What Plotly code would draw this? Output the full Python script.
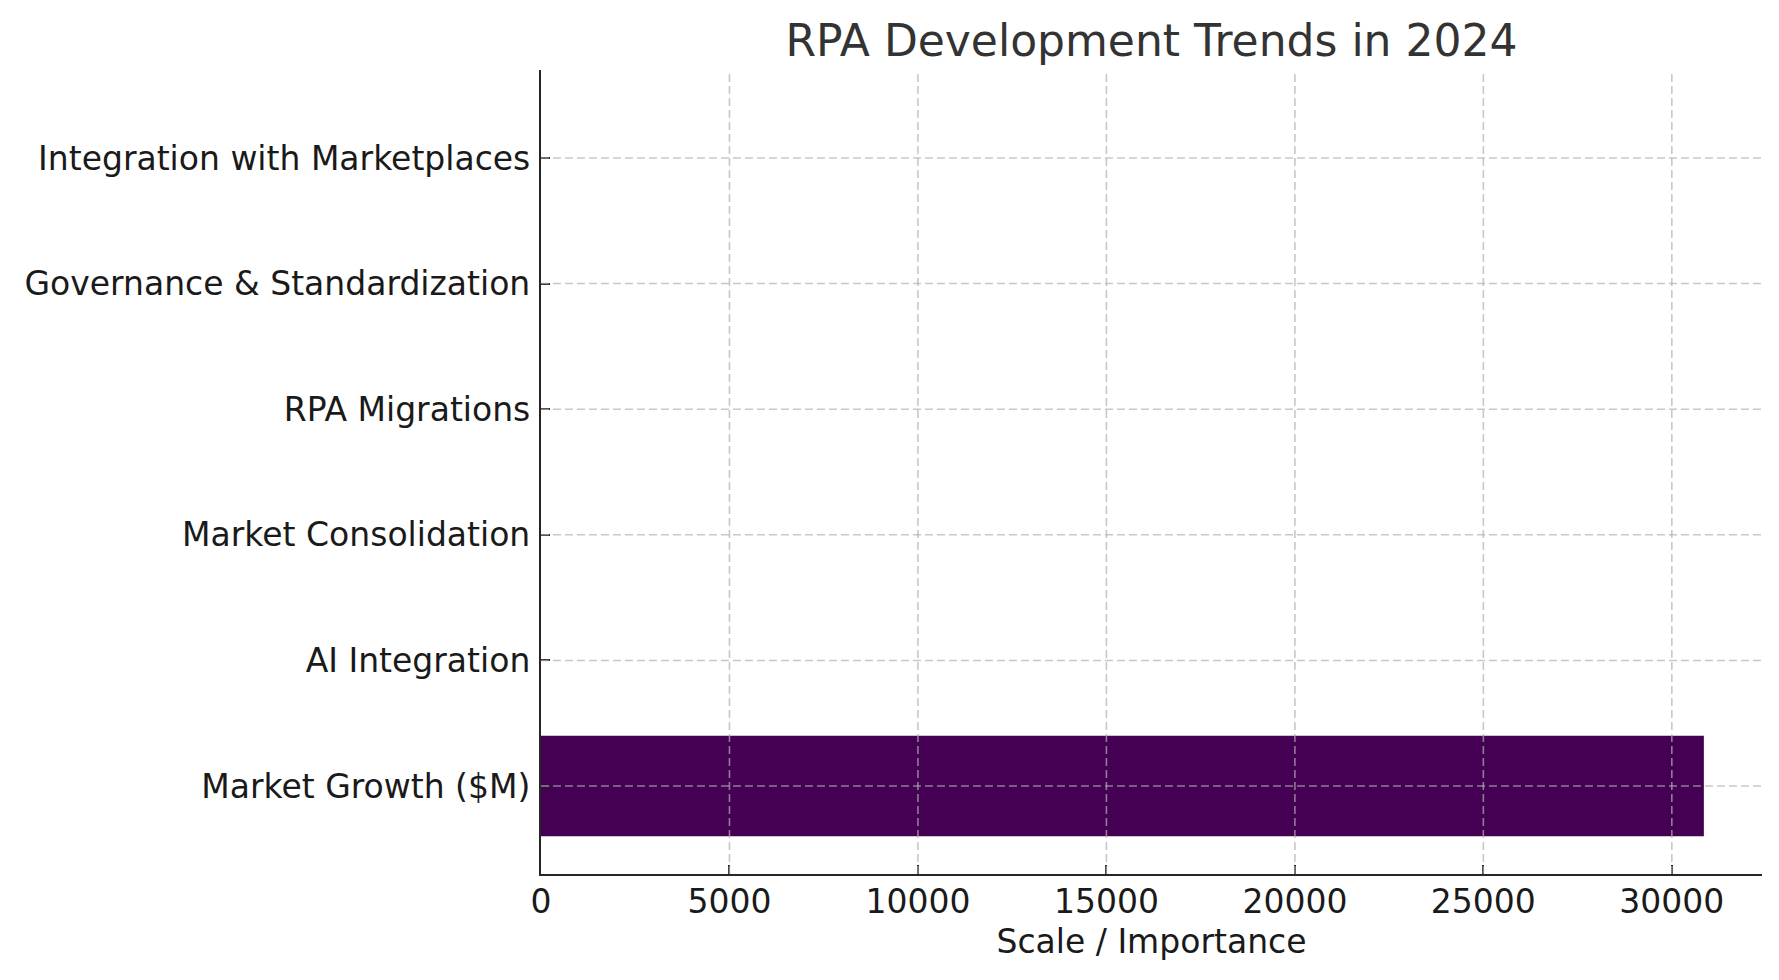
import plotly.graph_objects as go

# trends, bottom to top as drawn
trends = ['Market Growth ($M)', 'AI Integration', 'Market Consolidation',
          'RPA Migrations', 'Governance & Standardization',
          'Integration with Marketplaces']
# only the market figure shows up at this scale, the rest read as ~0
values = [30850, 0, 0, 0, 0, 0]
colors = ['#440154', '#414487', '#2a788e', '#22a884', '#7ad151', '#fde725']
x_ticks = [0, 5000, 10000, 15000, 20000, 25000, 30000]

FONT = 'DejaVu Sans'
AXIS_COLOR = '#262626'
GRID = 'rgba(176,176,176,0.7)'

fig = go.Figure()
fig.add_trace(go.Bar(x=values, y=trends, orientation='h',
                     marker=dict(color=colors, line=dict(width=0)),
                     width=0.8))

# dashed grid drawn over the bars, like the original
shapes = []
for t in x_ticks[1:]:
    shapes.append(dict(type='line', xref='x', yref='paper', x0=t, x1=t,
                       y0=0, y1=1, layer='above',
                       line=dict(color=GRID, width=1.6, dash='8px,4px')))
for i in range(len(trends)):
    shapes.append(dict(type='line', xref='paper', yref='y', x0=0, x1=1,
                       y0=i, y1=i, layer='above',
                       line=dict(color=GRID, width=1.6, dash='8px,4px')))

# page body has an 8px margin, so the figure is sized to fit inside it
fig.update_layout(
    width=1763, height=964,
    margin=dict(l=533, r=9, t=62, b=98),
    paper_bgcolor='white', plot_bgcolor='white',
    font=dict(family=FONT, size=33, color='#1a1a1a'),
    title=dict(text='RPA Development Trends in 2024', x=0.5, xref='paper',
               xanchor='center', y=0.9665, yanchor='middle',
               font=dict(size=44, color='#333333')),
    showlegend=False,
    shapes=shapes,
    bargap=0.2,
)
fig.update_xaxes(range=[0, max(values) * 1.05], tickvals=x_ticks,
                 tickformat='d',
                 showgrid=False, zeroline=False,
                 showline=True, linecolor=AXIS_COLOR, linewidth=2.2,
                 ticks='inside', ticklen=9, tickwidth=2, tickcolor=AXIS_COLOR,
                 ticklabelstandoff=-3,
                 title=dict(text='Scale / Importance', standoff=10,
                            font=dict(size=33, color='#1a1a1a')),
                 layer='above traces')
fig.update_yaxes(categoryorder='array', categoryarray=trends,
                 range=[-0.7, len(trends) - 0.3],
                 showgrid=False, zeroline=False,
                 showline=True, linecolor=AXIS_COLOR, linewidth=2.2,
                 ticks='inside', ticklen=9, tickwidth=2, tickcolor=AXIS_COLOR,
                 ticklabelstandoff=2, layer='above traces')

fig.write_html('out.html')
